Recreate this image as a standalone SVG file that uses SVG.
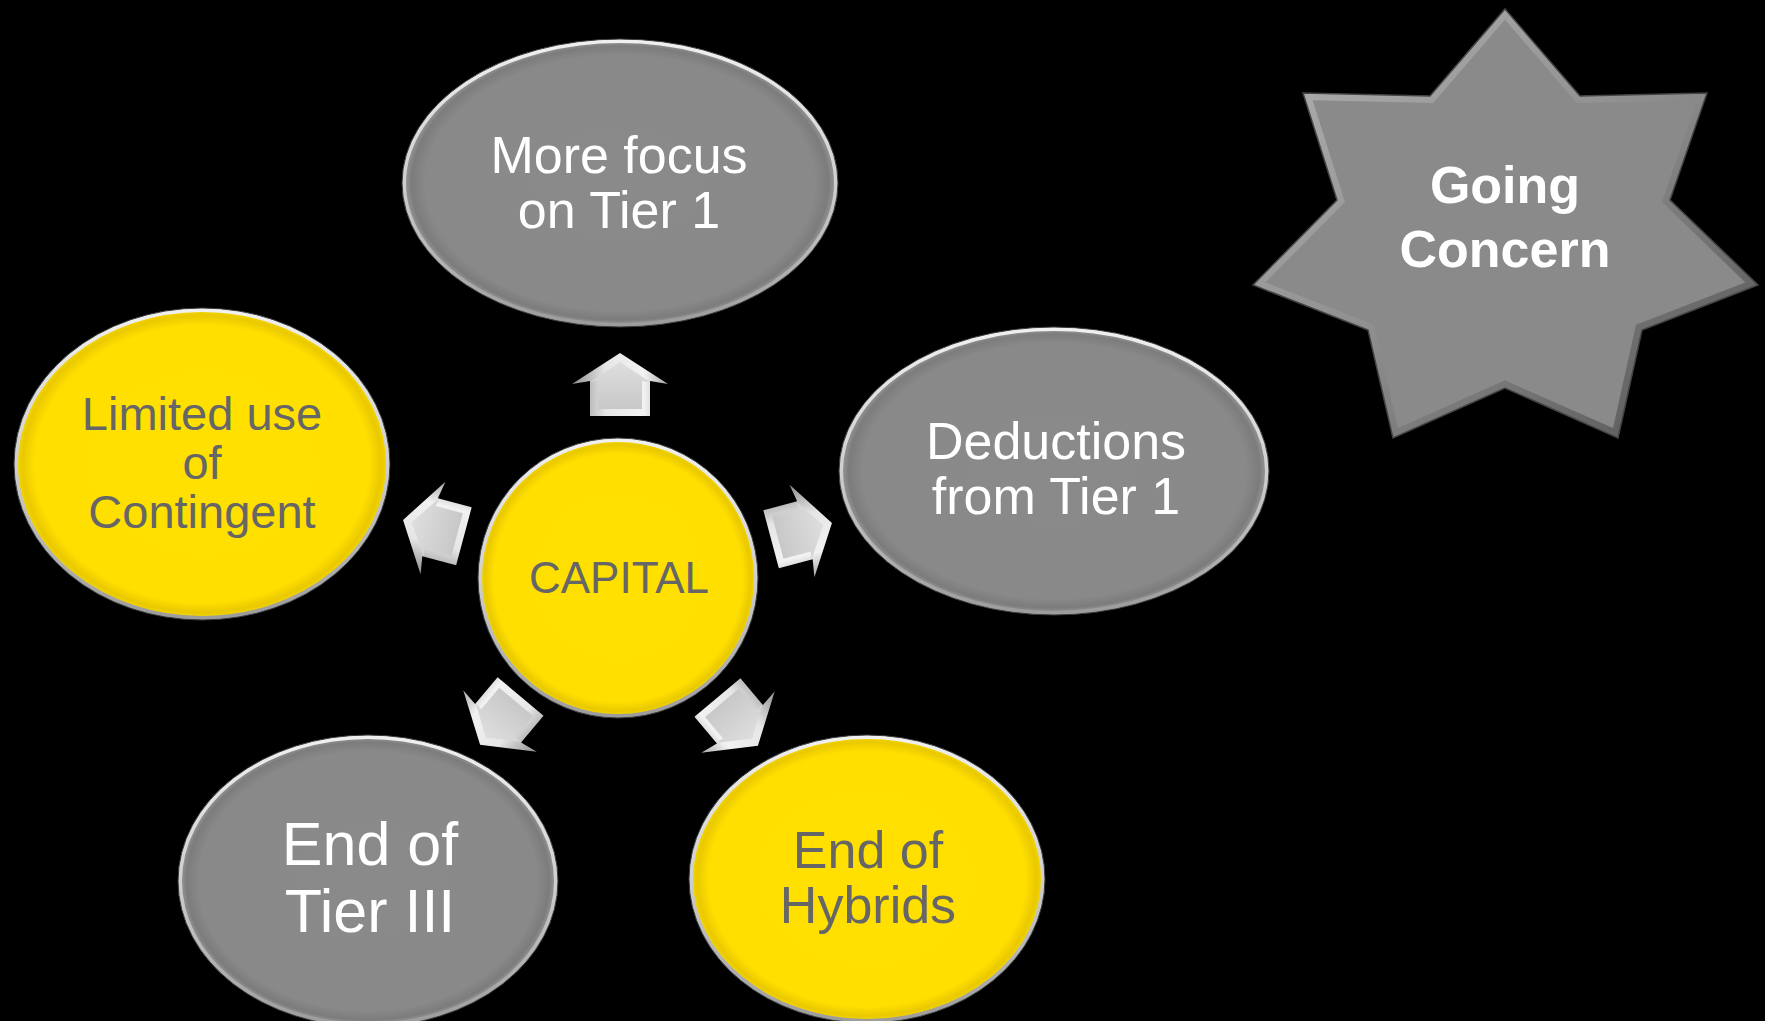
<svg xmlns="http://www.w3.org/2000/svg" width="1765" height="1021" viewBox="0 0 1765 1021">
<defs>
<radialGradient id="gGray" cx="0.5" cy="0.5" r="0.5">
<stop offset="0" stop-color="#8a8a8a"/>
<stop offset="0.9" stop-color="#898989"/>
<stop offset="0.965" stop-color="#7c7c7c"/>
<stop offset="1" stop-color="#9a9a9a"/>
</radialGradient>
<radialGradient id="gYel" cx="0.5" cy="0.5" r="0.5">
<stop offset="0" stop-color="#ffe000"/>
<stop offset="0.9" stop-color="#ffdf00"/>
<stop offset="0.965" stop-color="#e9c900"/>
<stop offset="1" stop-color="#f7d800"/>
</radialGradient>
<linearGradient id="gRim" x1="0" y1="0" x2="0" y2="1">
<stop offset="0" stop-color="#f0f0f0"/>
<stop offset="0.5" stop-color="#cfcfcf"/>
<stop offset="1" stop-color="#9c9c9c"/>
</linearGradient>
<linearGradient id="gStarBevel" x1="0" y1="0" x2="1" y2="1">
<stop offset="0" stop-color="#b4b4b4"/>
<stop offset="0.5" stop-color="#8e8e8e"/>
<stop offset="1" stop-color="#505050"/>
</linearGradient>
<linearGradient id="gArrOut" x1="0" y1="0" x2="1" y2="0">
<stop offset="0" stop-color="#8e8e8e"/>
<stop offset="0.35" stop-color="#e6e6e6"/>
<stop offset="0.75" stop-color="#f2f2f2"/>
<stop offset="1" stop-color="#a8a8a8"/>
</linearGradient>
<linearGradient id="gArrIn" x1="0" y1="0" x2="0" y2="1">
<stop offset="0" stop-color="#dedede"/>
<stop offset="1" stop-color="#c8c8c8"/>
</linearGradient>
<polygon id="arrOuter" points="0,-31 48,0 30,-3 30,32 -30,32 -30,-3 -48,0"/>
<polygon id="arrInner" points="0,-22 30,-2 22,-3 22,25 -22,25 -22,-3 -30,-2"/>
<polygon id="starPts" points="1505,9 1580,96 1707,93 1670,200 1758,285 1642,330 1618,438 1505,388 1393,438 1368,330 1253,285 1337,200 1303,93 1430,96"/>
<clipPath id="cStar"><use href="#starPts"/></clipPath>
</defs>
<style>
.rim{stroke:url(#gRim);stroke-width:4}
.edge{fill:none;stroke:#3a3a3a;stroke-width:1}
.gray{fill:url(#gGray)}
.yel{fill:url(#gYel)}
.tw{font-family:"Liberation Sans",Arial,sans-serif;fill:#ffffff;text-anchor:middle}
.tg{font-family:"Liberation Sans",Arial,sans-serif;fill:#666666;text-anchor:middle}
.arr-o{fill:url(#gArrOut)}
.arr-i{fill:url(#gArrIn)}
</style>
<rect x="0" y="0" width="1765" height="1021" fill="#000000"/>

<g id="connectors">
<g transform="translate(620,384) rotate(0)"><use href="#arrOuter" class="arr-o"/><use href="#arrInner" class="arr-i"/></g>
<g transform="translate(802,531) rotate(75)"><use href="#arrOuter" class="arr-o"/><use href="#arrInner" class="arr-i"/></g>
<g transform="translate(433,528) rotate(-75)"><use href="#arrOuter" class="arr-o"/><use href="#arrInner" class="arr-i"/></g>
<g transform="translate(738,722) rotate(140)"><use href="#arrOuter" class="arr-o"/><use href="#arrInner" class="arr-i"/></g>
<g transform="translate(500,721) rotate(-140)"><use href="#arrOuter" class="arr-o"/><use href="#arrInner" class="arr-i"/></g>
</g>

<g id="node-capital">
<circle cx="618" cy="578" r="138" class="yel rim"/>
<circle cx="618" cy="578" r="140" class="edge"/>
<text x="619" y="593" class="tg" font-size="44">CAPITAL</text>
</g>

<g id="node-focus">
<ellipse cx="620" cy="183" rx="216" ry="142" class="gray rim"/>
<ellipse cx="620" cy="183" rx="218" ry="144" class="edge"/>
<text x="619" y="173" class="tw" font-size="52">More focus</text>
<text x="619" y="228" class="tw" font-size="52">on Tier 1</text>
</g>

<g id="node-deductions">
<ellipse cx="1054" cy="471" rx="213" ry="142" class="gray rim"/>
<ellipse cx="1054" cy="471" rx="215" ry="144" class="edge"/>
<text x="1056" y="459" class="tw" font-size="52">Deductions</text>
<text x="1056" y="514" class="tw" font-size="52">from Tier 1</text>
</g>

<g id="node-hybrids">
<ellipse cx="867" cy="879" rx="176" ry="142" class="yel rim"/>
<ellipse cx="867" cy="879" rx="178" ry="144" class="edge"/>
<text x="868" y="868" class="tg" font-size="52">End of</text>
<text x="868" y="923" class="tg" font-size="52">Hybrids</text>
</g>

<g id="node-tier3">
<ellipse cx="368" cy="881" rx="188" ry="144" class="gray rim"/>
<ellipse cx="368" cy="881" rx="190" ry="146" class="edge"/>
<text x="370" y="865" class="tw" font-size="61">End of</text>
<text x="370" y="932" class="tw" font-size="61">Tier III</text>
</g>

<g id="node-contingent">
<ellipse cx="202" cy="464" rx="186" ry="154" class="yel rim"/>
<ellipse cx="202" cy="464" rx="188" ry="156" class="edge"/>
<text x="202" y="430" class="tg" font-size="47">Limited use</text>
<text x="202" y="479" class="tg" font-size="47">of</text>
<text x="202" y="528" class="tg" font-size="47">Contingent</text>
</g>

<g id="node-going-concern">
<use href="#starPts" fill="#8a8a8a"/>
<use href="#starPts" fill="none" stroke="url(#gStarBevel)" stroke-width="14" clip-path="url(#cStar)"/>
<use href="#starPts" fill="none" stroke="#444444" stroke-width="1.5"/>
<text x="1505" y="203" class="tw" font-size="52" font-weight="bold">Going</text>
<text x="1505" y="267" class="tw" font-size="52" font-weight="bold">Concern</text>
</g>
</svg>
